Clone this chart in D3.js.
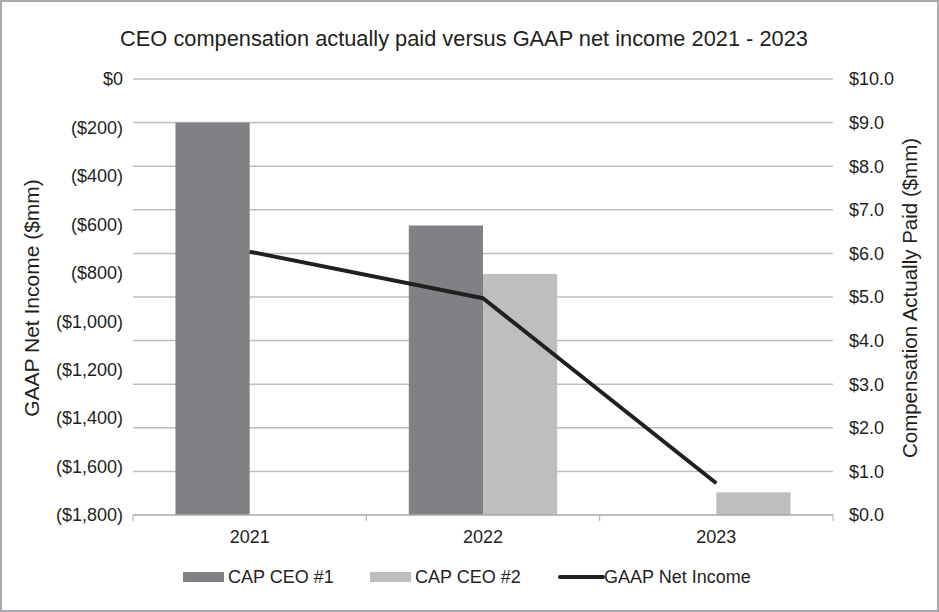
<!DOCTYPE html>
<html lang="en">
<head>
<meta charset="utf-8">
<title>CAP vs GAAP net income</title>
<script src="https://d3js.org/d3.v7.min.js"></script>
<style>
  html, body { margin: 0; padding: 0; background: #fff; }
  svg text { font-family: "Liberation Sans", Arial, sans-serif; fill: #231f20; }
</style>
</head>
<body>
<div id="chart"></div>
<script>
// data
const years = ["2021", "2022", "2023"];
const capCeo1 = [9.0, 6.64, null];
const capCeo2 = [null, 5.53, 0.52];
const netIncome = [-713, -905, -1669];
const leftTicks = [0, -200, -400, -600, -800, -1000, -1200, -1400, -1600, -1800];
const rightTicks = [0, 1, 2, 3, 4, 5, 6, 7, 8, 9, 10];
const seriesNames = ["CAP CEO #1", "CAP CEO #2", "GAAP Net Income"];

const W = 939, H = 612;
const margin = {top: 79, right: 106, bottom: 97, left: 133};
const width = W - margin.left - margin.right,
      height = H - margin.top - margin.bottom;

const svg = d3.select("#chart").append("svg")
  .attr("width", W).attr("height", H);

// outer frame
svg.append("rect")
  .attr("x", 1).attr("y", 1).attr("width", W - 2).attr("height", H - 2)
  .attr("fill", "#fff").attr("stroke", "#a7a9ac").attr("stroke-width", 2);

svg.append("text")
  .attr("x", 464).attr("y", 46)
  .attr("text-anchor", "middle")
  .style("font-size", "21.8px")
  .text("CEO compensation actually paid versus GAAP net income 2021 - 2023");

const g = svg.append("g")
  .attr("transform", `translate(${margin.left},${margin.top})`);

const x = d3.scaleBand().domain(years).range([0, width]).paddingInner(0).paddingOuter(0);
const x1 = d3.scaleBand().domain([0, 1]).range([x.bandwidth() * 0.182, x.bandwidth() * 0.818]);
const yL = d3.scaleLinear().domain([-1800, 0]).range([height, 0]);
const yR = d3.scaleLinear().domain([0, 10]).range([height, 0]);

// gridlines
g.append("g")
  .selectAll("line")
  .data(rightTicks.slice(1))
  .join("line")
    .attr("x1", 0).attr("x2", width)
    .attr("y1", d => yR(d)).attr("y2", d => yR(d))
    .attr("stroke", "#bcbec0").attr("stroke-width", 1.5);

// bars
const barColors = ["#808184", "#bcbec0"];
[capCeo1, capCeo2].forEach((vals, i) => {
  g.append("g")
    .selectAll("rect")
    .data(years.map((yr, j) => ({yr, v: vals[j]})).filter(d => d.v != null))
    .join("rect")
      .attr("x", d => x(d.yr) + x1(i))
      .attr("width", x1.bandwidth())
      .attr("y", d => yR(d.v))
      .attr("height", d => height - yR(d.v))
      .attr("fill", barColors[i]);
});

// x axis
const xAxis = g.append("g")
  .attr("transform", `translate(0,${height})`);
xAxis.append("line")
  .attr("x1", 0).attr("x2", width)
  .attr("stroke", "#a7a9ac").attr("stroke-width", 1.5);
xAxis.selectAll(".tk")
  .data(d3.range(years.length + 1))
  .join("line")
    .attr("x1", d => d * x.step()).attr("x2", d => d * x.step())
    .attr("y1", 0).attr("y2", 6)
    .attr("stroke", "#a7a9ac").attr("stroke-width", 1);
xAxis.selectAll("text")
  .data(years)
  .join("text")
    .attr("x", d => x(d) + x.bandwidth() / 2)
    .attr("y", 28)
    .attr("text-anchor", "middle")
    .style("font-size", "18px")
    .text(d => d);

// left axis labels
const fmtL = d => d === 0 ? "$0" : "($" + d3.format(",")(-d) + ")";
g.append("g").selectAll("text")
  .data(leftTicks)
  .join("text")
    .attr("x", -10).attr("y", d => yL(d))
    .attr("dy", "0.35em")
    .attr("text-anchor", "end")
    .style("font-size", "18px")
    .text(fmtL);

// right axis labels
g.append("g").selectAll("text")
  .data(rightTicks)
  .join("text")
    .attr("x", width + 16).attr("y", d => yR(d))
    .attr("dy", "0.35em")
    .style("font-size", "18px")
    .text(d => "$" + d3.format(".1f")(d));

// axis titles
svg.append("text")
  .attr("transform", `translate(39,${margin.top + height / 2 + 1}) rotate(-90)`)
  .attr("text-anchor", "middle")
  .style("font-size", "21px")
  .text("GAAP Net Income ($mm)");
svg.append("text")
  .attr("transform", `translate(917,${margin.top + height / 2 + 1}) rotate(-90)`)
  .attr("text-anchor", "middle")
  .style("font-size", "20.5px")
  .text("Compensation Actually Paid ($mm)");

// net income line
g.append("path")
  .datum(years.map((yr, j) => ({yr, v: netIncome[j]})))
  .attr("fill", "none")
  .attr("stroke", "#231f20")
  .attr("stroke-width", 4)
  .attr("stroke-linejoin", "round")
  .attr("d", d3.line()
    .x(d => x(d.yr) + x.bandwidth() / 2)
    .y(d => yL(d.v)));

// legend
const legendX = [183, 370, 560];
const leg = svg.append("g").attr("transform", "translate(0,577)");
seriesNames.forEach((name, i) => {
  const item = leg.append("g").attr("transform", `translate(${legendX[i]},0)`);
  if (i < 2) {
    item.append("rect")
      .attr("x", 0).attr("y", -5).attr("width", 41).attr("height", 10)
      .attr("fill", barColors[i]);
  } else {
    item.append("line")
      .attr("x1", 0).attr("x2", 43).attr("y1", 0).attr("y2", 0)
      .attr("stroke", "#231f20").attr("stroke-width", 4)
      .attr("stroke-linecap", "round");
  }
  item.append("text")
    .attr("x", i < 2 ? 45 : 44).attr("y", 0)
    .attr("dy", "0.35em")
    .style("font-size", "18px")
    .text(name);
});
</script>
</body>
</html>
